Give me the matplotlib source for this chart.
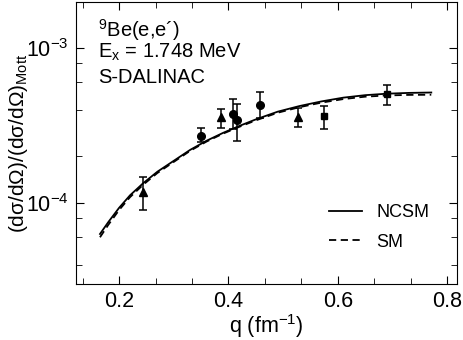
import numpy as np
import matplotlib
matplotlib.use("Agg")
import matplotlib.pyplot as plt
from matplotlib.ticker import MultipleLocator, LogLocator, NullFormatter

plt.rcParams['font.family'] = ['Liberation Sans', 'DejaVu Sans']
plt.rcParams['mathtext.fontset'] = 'custom'
plt.rcParams['mathtext.rm'] = 'Liberation Sans'
plt.rcParams['mathtext.it'] = 'Liberation Sans:italic'

# theory curves
q_ncsm = [0.165, 0.18, 0.20, 0.22, 0.244, 0.27, 0.30, 0.33, 0.36, 0.39, 0.42,
          0.45, 0.49, 0.53, 0.57, 0.61, 0.65, 0.69, 0.73, 0.771]
f_ncsm = [6.3e-5, 7.5e-5, 9.3e-5, 1.12e-4, 1.34e-4, 1.59e-4, 1.87e-4, 2.2e-4,
          2.52e-4, 2.83e-4, 3.14e-4, 3.46e-4, 3.88e-4, 4.22e-4, 4.52e-4,
          4.78e-4, 4.96e-4, 5.07e-4, 5.13e-4, 5.16e-4]
q_sm = q_ncsm
f_sm = [6.0e-5, 7.2e-5, 9.0e-5, 1.09e-4, 1.31e-4, 1.56e-4, 1.84e-4, 2.17e-4,
        2.49e-4, 2.8e-4, 3.1e-4, 3.41e-4, 3.82e-4, 4.15e-4, 4.44e-4,
        4.68e-4, 4.85e-4, 4.94e-4, 4.98e-4, 4.99e-4]

# data: triangles, circles, squares
q_tri = [0.244, 0.386, 0.527]
f_tri = [1.18e-4, 3.57e-4, 3.6e-4]
lo_tri = [9.0e-5, 3.06e-4, 3.08e-4]
hi_tri = [1.47e-4, 4.04e-4, 4.12e-4]

q_circ = [0.350, 0.408, 0.415, 0.457]
f_circ = [2.72e-4, 3.75e-4, 3.45e-4, 4.29e-4]
lo_circ = [2.48e-4, 3.0e-4, 2.51e-4, 3.52e-4]
hi_circ = [3.06e-4, 4.69e-4, 4.35e-4, 5.18e-4]

q_sq = [0.575, 0.690]
f_sq = [3.64e-4, 5.05e-4]
lo_sq = [3.0e-4, 4.29e-4]
hi_sq = [4.22e-4, 5.77e-4]

fig = plt.figure(figsize=(4.63, 3.40), dpi=100)
ax = fig.add_axes([0.164, 0.165, 0.823, 0.829])

ax.plot(q_ncsm, f_ncsm, color='black', lw=1.3, label='NCSM')
ax.plot(q_sm, f_sm, color='black', lw=1.3, ls=(0, (4, 2.5)), label='SM')

def err(q, f, lo, hi, marker, ms):
    f = np.array(f)
    yerr = [f - np.array(lo), np.array(hi) - f]
    ax.errorbar(q, f, yerr=yerr, fmt=marker, color='black', ms=ms,
                capsize=3, elinewidth=1.1, capthick=1.1)

err(q_tri, f_tri, lo_tri, hi_tri, '^', 5.5)
err(q_circ, f_circ, lo_circ, hi_circ, 'o', 5.5)
err(q_sq, f_sq, lo_sq, hi_sq, 's', 4.8)

ax.set_yscale('log')
ax.set_xlim(0.121, 0.818)
ax.set_ylim(3.0e-5, 1.98e-3)
ax.xaxis.set_major_locator(MultipleLocator(0.2))
ax.xaxis.set_minor_locator(MultipleLocator(0.2 / 3))
ax.yaxis.set_major_locator(LogLocator(base=10, numticks=10))
ax.yaxis.set_minor_locator(LogLocator(base=10, subs=[2, 4, 6, 8], numticks=10))
ax.yaxis.set_minor_formatter(NullFormatter())
ax.tick_params(which='both', direction='in', top=True, right=True, labelsize=15.5)
ax.tick_params(which='major', length=6, pad=5)
ax.tick_params(which='minor', length=4)

ax.set_xlabel('q (fm$^{-1}$)', fontsize=15.5, labelpad=0)
ax.set_ylabel('(dσ/dΩ)/(dσ/dΩ)$_{\\mathrm{Mott}}$', fontsize=15)
ax.yaxis.set_label_coords(-0.12, 0.5)

ax.text(0.058, 0.876, '$^{9}$Be(e,e\u00b4)', transform=ax.transAxes,
        fontsize=14.5, va='baseline')
ax.text(0.058, 0.801, 'E$_{\\mathrm{x}}$ = 1.748 MeV', transform=ax.transAxes,
        fontsize=14.5, va='baseline')
ax.text(0.058, 0.713, 'S-DALINAC', transform=ax.transAxes,
        fontsize=14.5, va='baseline')

ax.legend(loc='lower right', frameon=False, fontsize=13, handlelength=1.8,
          bbox_to_anchor=(0.97, 0.06), labelspacing=0.7)

fig.savefig('out.png', dpi=100)
